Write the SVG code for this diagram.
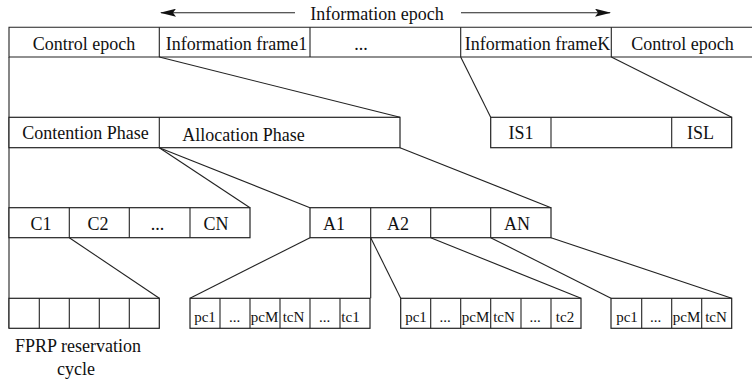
<svg xmlns="http://www.w3.org/2000/svg" width="752" height="379" viewBox="0 0 752 379">
  <style>
    .box { fill: #ffffff; stroke: #222222; stroke-width: 1.2; }
    .ln { fill: none; stroke: #222222; stroke-width: 1.1; }
    .t { font-family: "Liberation Serif", "Times New Roman", serif; font-size: 18px; fill: #111111; text-anchor: middle; }
    .s { font-family: "Liberation Serif", "Times New Roman", serif; font-size: 15px; fill: #111111; text-anchor: middle; }
  </style>
  <defs>
    <marker id="arrow" markerWidth="16" markerHeight="8" refX="15" refY="4" orient="auto" markerUnits="userSpaceOnUse">
      <path d="M0,0 L16,4 L0,8 L3,4 Z" fill="#111111"/>
    </marker>
  </defs>
  <rect width="752" height="379" fill="#ffffff"/>

  <!-- span label above the frames -->
  <g id="info-epoch-label">
    <line class="ln" x1="295" y1="12.7" x2="161" y2="12.7" marker-end="url(#arrow)"/>
    <line class="ln" x1="461" y1="12.7" x2="610" y2="12.7" marker-end="url(#arrow)"/>
    <text class="t" x="377" y="20">Information epoch</text>
  </g>

  <!-- top level: epochs and frames -->
  <g id="top-bar">
    <path class="ln" d="M753,27.3 H9 V57 H753"/>
    <line class="ln" x1="159.3" y1="27.3" x2="159.3" y2="57"/>
    <line class="ln" x1="310" y1="27.3" x2="310" y2="57"/>
    <line class="ln" x1="460.7" y1="27.3" x2="460.7" y2="57"/>
    <line class="ln" x1="611.3" y1="27.3" x2="611.3" y2="57"/>
    <text class="t" x="84" y="50">Control epoch</text>
    <text class="t" x="236.5" y="50">Information frame1</text>
    <text class="t" x="361" y="50">...</text>
    <text class="t" x="537.5" y="50">Information frameK</text>
    <text class="t" x="682.5" y="50">Control epoch</text>
  </g>

  <!-- left rail -->
  <g id="left-rail">
    <line class="ln" x1="9" y1="57" x2="9" y2="328.3"/>
  </g>

  <!-- frame phases -->
  <g id="phase-bar">
    <rect class="box" x="9" y="117.3" width="391" height="30.4"/>
    <line class="ln" x1="159.3" y1="117.3" x2="159.3" y2="147.7"/>
    <text class="t" x="85.5" y="139.3">Contention Phase</text>
    <text class="t" x="243.5" y="140.7">Allocation Phase</text>
  </g>

  <!-- information slots -->
  <g id="slot-bar">
    <rect class="box" x="490.7" y="117.3" width="241" height="30.4"/>
    <line class="ln" x1="551" y1="117.3" x2="551" y2="147.7"/>
    <line class="ln" x1="671.7" y1="117.3" x2="671.7" y2="147.7"/>
    <text class="t" x="521" y="139.3">IS1</text>
    <text class="t" x="700.5" y="139.3">ISL</text>
  </g>

  <!-- contention cycles -->
  <g id="contention-bar">
    <rect class="box" x="9" y="207.7" width="241" height="30"/>
    <line class="ln" x1="69.3" y1="207.7" x2="69.3" y2="237.7"/>
    <line class="ln" x1="129.3" y1="207.7" x2="129.3" y2="237.7"/>
    <line class="ln" x1="190" y1="207.7" x2="190" y2="237.7"/>
    <text class="t" x="41" y="230">C1</text>
    <text class="t" x="98" y="230">C2</text>
    <text class="t" x="157.5" y="230">...</text>
    <text class="t" x="216" y="230">CN</text>
  </g>

  <!-- allocation slots -->
  <g id="allocation-bar">
    <rect class="box" x="310" y="207.7" width="241" height="30"/>
    <line class="ln" x1="370.7" y1="207.7" x2="370.7" y2="237.7"/>
    <line class="ln" x1="430.7" y1="207.7" x2="430.7" y2="237.7"/>
    <line class="ln" x1="490.7" y1="207.7" x2="490.7" y2="237.7"/>
    <text class="t" x="334" y="230">A1</text>
    <text class="t" x="398" y="230">A2</text>
    <text class="t" x="517" y="230">AN</text>
  </g>

  <!-- FPRP reservation cycle -->
  <g id="fprp-cycle">
    <rect class="box" x="9" y="298.3" width="150.3" height="30"/>
    <line class="ln" x1="39.3" y1="298.3" x2="39.3" y2="328.3"/>
    <line class="ln" x1="69.3" y1="298.3" x2="69.3" y2="328.3"/>
    <line class="ln" x1="99.3" y1="298.3" x2="99.3" y2="328.3"/>
    <line class="ln" x1="129.3" y1="298.3" x2="129.3" y2="328.3"/>
    <text class="t" x="78" y="351.7">FPRP reservation</text>
    <text class="t" x="76" y="375">cycle</text>
  </g>

  <!-- A1 sub-slots -->
  <g id="a1-slots">
    <rect class="box" x="190" y="298.3" width="180" height="30"/>
    <line class="ln" x1="220" y1="298.3" x2="220" y2="328.3"/>
    <line class="ln" x1="250" y1="298.3" x2="250" y2="328.3"/>
    <line class="ln" x1="280" y1="298.3" x2="280" y2="328.3"/>
    <line class="ln" x1="310" y1="298.3" x2="310" y2="328.3"/>
    <line class="ln" x1="340" y1="298.3" x2="340" y2="328.3"/>
    <text class="s" x="205" y="322">pc1</text>
    <text class="s" x="234.5" y="322">...</text>
    <text class="s" x="264.5" y="322">pcM</text>
    <text class="s" x="293.5" y="322">tcN</text>
    <text class="s" x="324.5" y="322">...</text>
    <text class="s" x="350.5" y="322">tc1</text>
  </g>

  <!-- A2 sub-slots -->
  <g id="a2-slots">
    <rect class="box" x="400.7" y="298.3" width="180.3" height="30"/>
    <line class="ln" x1="430.7" y1="298.3" x2="430.7" y2="328.3"/>
    <line class="ln" x1="460.7" y1="298.3" x2="460.7" y2="328.3"/>
    <line class="ln" x1="490.7" y1="298.3" x2="490.7" y2="328.3"/>
    <line class="ln" x1="521" y1="298.3" x2="521" y2="328.3"/>
    <line class="ln" x1="551" y1="298.3" x2="551" y2="328.3"/>
    <text class="s" x="416" y="322">pc1</text>
    <text class="s" x="445" y="322">...</text>
    <text class="s" x="475.5" y="322">pcM</text>
    <text class="s" x="504" y="322">tcN</text>
    <text class="s" x="535" y="322">...</text>
    <text class="s" x="565" y="322">tc2</text>
  </g>

  <!-- AN sub-slots -->
  <g id="an-slots">
    <rect class="box" x="611" y="298.3" width="120.7" height="30"/>
    <line class="ln" x1="641.7" y1="298.3" x2="641.7" y2="328.3"/>
    <line class="ln" x1="671.7" y1="298.3" x2="671.7" y2="328.3"/>
    <line class="ln" x1="701.7" y1="298.3" x2="701.7" y2="328.3"/>
    <text class="s" x="627" y="322">pc1</text>
    <text class="s" x="655.5" y="322">...</text>
    <text class="s" x="686.5" y="322">pcM</text>
    <text class="s" x="716" y="322">tcN</text>
  </g>

  <!-- expansion connectors -->
  <g id="connectors">
    <line class="ln" x1="159.3" y1="57" x2="400" y2="117.3"/>
    <line class="ln" x1="460.7" y1="57" x2="490.7" y2="117.3"/>
    <line class="ln" x1="611.3" y1="57" x2="731.7" y2="117.3"/>
    <line class="ln" x1="159.3" y1="147.7" x2="250" y2="207.7"/>
    <line class="ln" x1="159.3" y1="147.7" x2="310" y2="207.7"/>
    <line class="ln" x1="400" y1="147.7" x2="551" y2="207.7"/>
    <line class="ln" x1="69.3" y1="237.7" x2="159.3" y2="298.3"/>
    <line class="ln" x1="310" y1="237.7" x2="190" y2="298.3"/>
    <line class="ln" x1="370.7" y1="237.7" x2="370.7" y2="298.3"/>
    <line class="ln" x1="370.7" y1="237.7" x2="400.7" y2="298.3"/>
    <line class="ln" x1="430.7" y1="237.7" x2="581" y2="298.3"/>
    <line class="ln" x1="490.7" y1="237.7" x2="611" y2="298.3"/>
    <line class="ln" x1="551" y1="237.7" x2="731.7" y2="298.3"/>
  </g>
</svg>
